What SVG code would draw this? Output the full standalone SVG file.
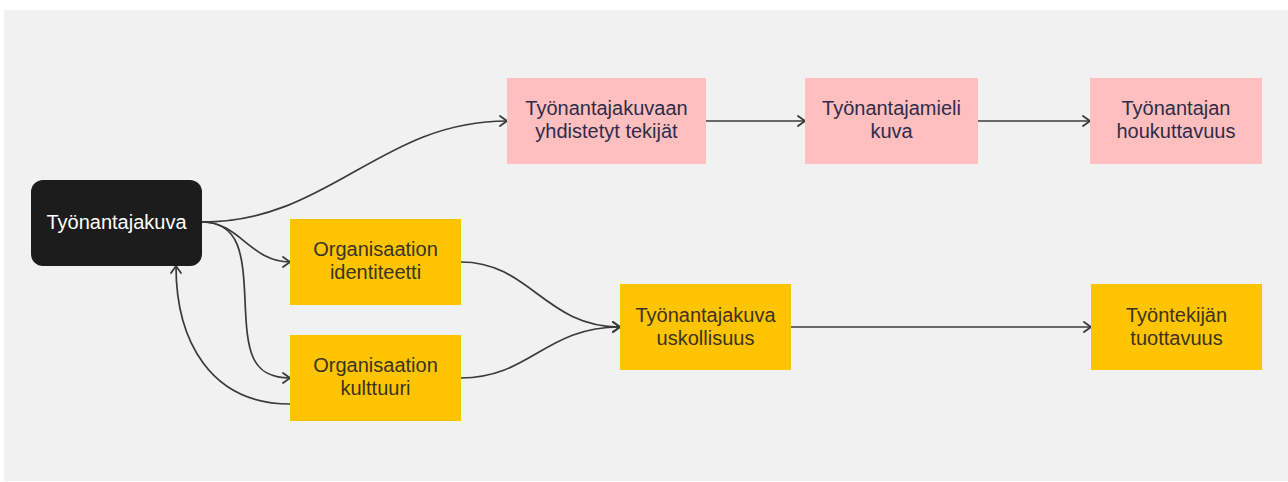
<svg xmlns="http://www.w3.org/2000/svg" width="1288" height="482" viewBox="0 0 1288 482">
<style>
.t{font-family:"Liberation Sans",Arial,sans-serif;font-size:20px;text-anchor:middle}
.pk rect{fill:#ffbfbf}
.pk text{fill:#2e2c4a}
.yl rect{fill:#ffc400}
.yl text{fill:#3a3320}
.edge{fill:none;stroke:#3a3a3a;stroke-width:1.7}
</style>
<defs>
<marker id="ah" markerUnits="userSpaceOnUse" markerWidth="14" markerHeight="14" refX="10" refY="6" orient="auto">
<path d="M3,1 L10,6 L3,11" fill="none" stroke="#3a3a3a" stroke-width="1.8" stroke-linecap="round" stroke-linejoin="round"/>
</marker>
</defs>
<rect x="0" y="0" width="1288" height="482" fill="#ffffff"/>
<rect x="4" y="10" width="1284" height="471" fill="#f1f1f1"/>
<g id="connectors">
<path class="edge" d="M202,222 C330,222 380,121 507,121" marker-end="url(#ah)"/>
<path class="edge" d="M202,222 C240,222 250,262 290,262" marker-end="url(#ah)"/>
<path class="edge" d="M202,222 C240,222 243,255 245,300 C247,350 250,378 290,378" marker-end="url(#ah)"/>
<path class="edge" d="M290,404 C210,404 176,340 176,266" marker-end="url(#ah)"/>
<path class="edge" d="M461,262 C530,262 545,327 620,327" marker-end="url(#ah)"/>
<path class="edge" d="M461,378 C530,378 545,327 620,327" marker-end="url(#ah)"/>
<path class="edge" d="M706,121 L805,121" marker-end="url(#ah)"/>
<path class="edge" d="M978,121 L1090,121" marker-end="url(#ah)"/>
<path class="edge" d="M791,327 L1091,327" marker-end="url(#ah)"/>
</g>
<g id="tyonantajakuva">
<rect x="31" y="180" width="171" height="86" rx="12" fill="#1c1c1c"/>
<text class="t" x="116.5" y="229" fill="#ffffff">Työnantajakuva</text>
</g>
<g id="org-identiteetti" class="yl">
<rect x="290" y="219" width="171" height="86"/>
<text class="t" x="375.5" y="256">Organisaation</text>
<text class="t" x="375.5" y="279">identiteetti</text>
</g>
<g id="org-kulttuuri" class="yl">
<rect x="290" y="335" width="171" height="86"/>
<text class="t" x="375.5" y="372">Organisaation</text>
<text class="t" x="375.5" y="395">kulttuuri</text>
</g>
<g id="yhdistetyt-tekijat" class="pk">
<rect x="507" y="78" width="199" height="86"/>
<text class="t" x="606.5" y="114.5">Työnantajakuvaan</text>
<text class="t" x="606.5" y="138">yhdistetyt tekijät</text>
</g>
<g id="tyonantajamieli" class="pk">
<rect x="805" y="78" width="173" height="86"/>
<text class="t" x="891.5" y="114.5">Työnantajamieli</text>
<text class="t" x="891.5" y="138">kuva</text>
</g>
<g id="houkuttavuus" class="pk">
<rect x="1090" y="78" width="172" height="86"/>
<text class="t" x="1176" y="114.5">Työnantajan</text>
<text class="t" x="1176" y="138">houkuttavuus</text>
</g>
<g id="uskollisuus" class="yl">
<rect x="620" y="284" width="171" height="86"/>
<text class="t" x="705.5" y="321.5">Työnantajakuva</text>
<text class="t" x="705.5" y="344.5">uskollisuus</text>
</g>
<g id="tuottavuus" class="yl">
<rect x="1091" y="284" width="171" height="86"/>
<text class="t" x="1176.5" y="321.5">Työntekijän</text>
<text class="t" x="1176.5" y="344.5">tuottavuus</text>
</g>
</svg>
